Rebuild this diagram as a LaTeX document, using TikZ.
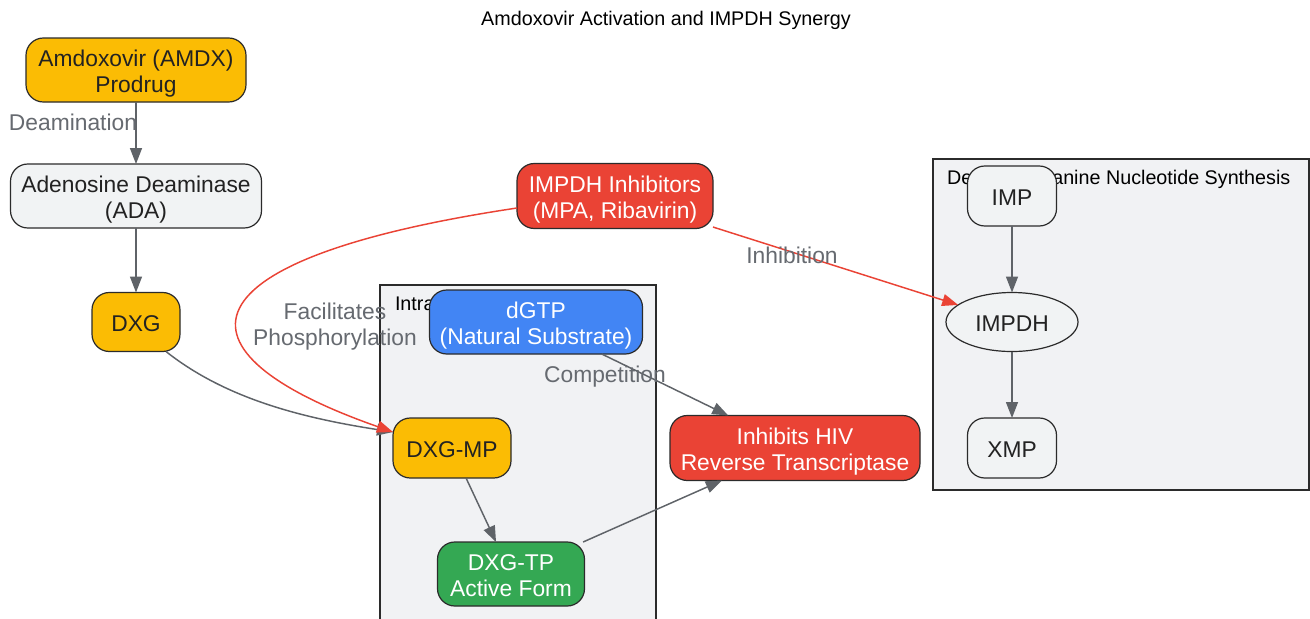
\documentclass[tikz,border=0pt]{standalone}
\usepackage{fontspec}
\setmainfont{Liberation Sans}
\usetikzlibrary{arrows.meta,shapes.geometric,calc}
\definecolor{amber}{HTML}{FBBC04}
\definecolor{lgrey}{HTML}{F1F3F4}
\definecolor{gred}{HTML}{EA4335}
\definecolor{gblue}{HTML}{4285F4}
\definecolor{ggreen}{HTML}{34A853}
\definecolor{edgegrey}{HTML}{5F6368}
\definecolor{bord}{HTML}{2B2B2B}
\definecolor{clfill}{HTML}{F1F2F4}
\definecolor{dtext}{HTML}{222222}
\definecolor{ltext}{HTML}{666A70}
\newcommand{\Ltop}{\rule{0pt}{17.3pt}}
\newcommand{\Lbot}{\rule[-3.6pt]{0pt}{0pt}}
\begin{document}
\begin{tikzpicture}[x=0.75pt,y=-0.75pt,
  every node/.style={inner sep=0pt,outer sep=0pt},
  struts/.style={execute at begin node={\Ltop},execute at end node={\Lbot}},
  box/.style={draw=bord,line width=0.9pt,rounded corners=13pt,align=center,
    font=\fontsize{17.1}{19.5}\selectfont,text=dtext,struts},
  darkbox/.style={box,text=white},
  ellbox/.style={draw=bord,line width=0.9pt,ellipse,align=center,fill=lgrey,
    font=\fontsize{17.1}{19.5}\selectfont,text=dtext,struts},
  cluster/.style={draw=bord,line width=0.9pt,fill=clfill},
  cllabel/.style={anchor=west,font=\fontsize{14.8}{17}\selectfont,text=black},
  edgelabel/.style={align=center,font=\fontsize{17.1}{19.5}\selectfont,text=ltext,struts},
  edge/.style={draw=edgegrey,line width=1.1pt,-{Triangle[length=12pt,width=9pt]}},
  redge/.style={draw=gred,line width=1.1pt,-{Triangle[length=12pt,width=9pt]}}
]
\useasboundingbox (0,0) rectangle (1310,618);
\fill[white] (0,0) rectangle (1310,618);

% title
\node[font=\fontsize{14.8}{17}\selectfont] (title) at (666,20) {Amdoxovir Activation and IMPDH Synergy};

% clusters
\begin{scope}
\clip (0,0) rectangle (1310,618);
\draw[cluster] (380,285) rectangle (656,640);
\end{scope}
\node[cllabel] (cl1) at (395,303) {Intracellular};
\draw[cluster] (933,159) rectangle (1309,490);
\node[cllabel] (cl2) at (947,179) {De novo Guanine Nucleotide Synthesis};

% nodes
\node[box,fill=amber,minimum width=165pt,minimum height=48pt] (amdx) at (136,70) {\Ltop Amdoxovir (AMDX)\\Prodrug\Lbot};
\node[box,fill=lgrey,minimum width=188.25pt,minimum height=48pt] (ada) at (136,196) {\Ltop Adenosine Deaminase\\(ADA)\Lbot};
\node[box,fill=amber,minimum width=66pt,minimum height=44.25pt] (dxg) at (136,322) {DXG};
\node[darkbox,fill=gred,minimum width=147pt,minimum height=48.75pt] (inh) at (615,196) {\Ltop IMPDH Inhibitors\\(MPA, Ribavirin)\Lbot};
\node[darkbox,fill=gblue,minimum width=159.75pt,minimum height=48pt] (dgtp) at (536,322) {\Ltop dGTP\\(Natural Substrate)\Lbot};
\node[box,fill=amber,minimum width=88.5pt,minimum height=45pt] (dxgmp) at (452,448) {DXG-MP};
\node[darkbox,fill=ggreen,minimum width=110.25pt,minimum height=48pt] (dxgtp) at (511,574) {\Ltop DXG-TP\\Active Form\Lbot};
\node[darkbox,fill=gred,minimum width=187.5pt,minimum height=48.75pt] (hiv) at (795,448) {\Ltop Inhibits HIV\\Reverse Transcriptase\Lbot};
\node[box,fill=lgrey,minimum width=66.75pt,minimum height=45pt] (imp) at (1012,196) {IMP};
\node[ellbox,minimum width=99pt,minimum height=44.25pt] (impdh) at (1012,322) {IMPDH};
\node[box,fill=lgrey,minimum width=66.75pt,minimum height=45pt] (xmp) at (1012,448) {XMP};

% edges
\draw[edge] (amdx) -- (ada);
\draw[edge] (ada) -- (dxg);
\draw[edge] ($(dxg.south)+(30,0)$) .. controls (226,399) and (303,418) .. ($(dxgmp.west)+(0,-16)$);
\draw[redge] ($(inh.west)+(0,12)$) .. controls (177,259) and (163,351.5) .. ($(dxgmp.west)+(0,-16)$);
\draw[redge] (inh) -- (impdh);
\draw[edge] (dgtp) -- (hiv);
\draw[edge] (dxgmp) -- (dxgtp);
\draw[edge] (dxgtp) -- (hiv);
\draw[edge] (imp) -- (impdh);
\draw[edge] (impdh) -- (xmp);

% edge labels
\node[edgelabel] (l1) at (73,121) {Deamination};
\node[edgelabel] (l2) at (335,323) {\Ltop Facilitates\\Phosphorylation\Lbot};
\node[edgelabel] (l3) at (792,254) {Inhibition};
\node[edgelabel] (l4) at (605,373) {Competition};
\end{tikzpicture}
\end{document}
